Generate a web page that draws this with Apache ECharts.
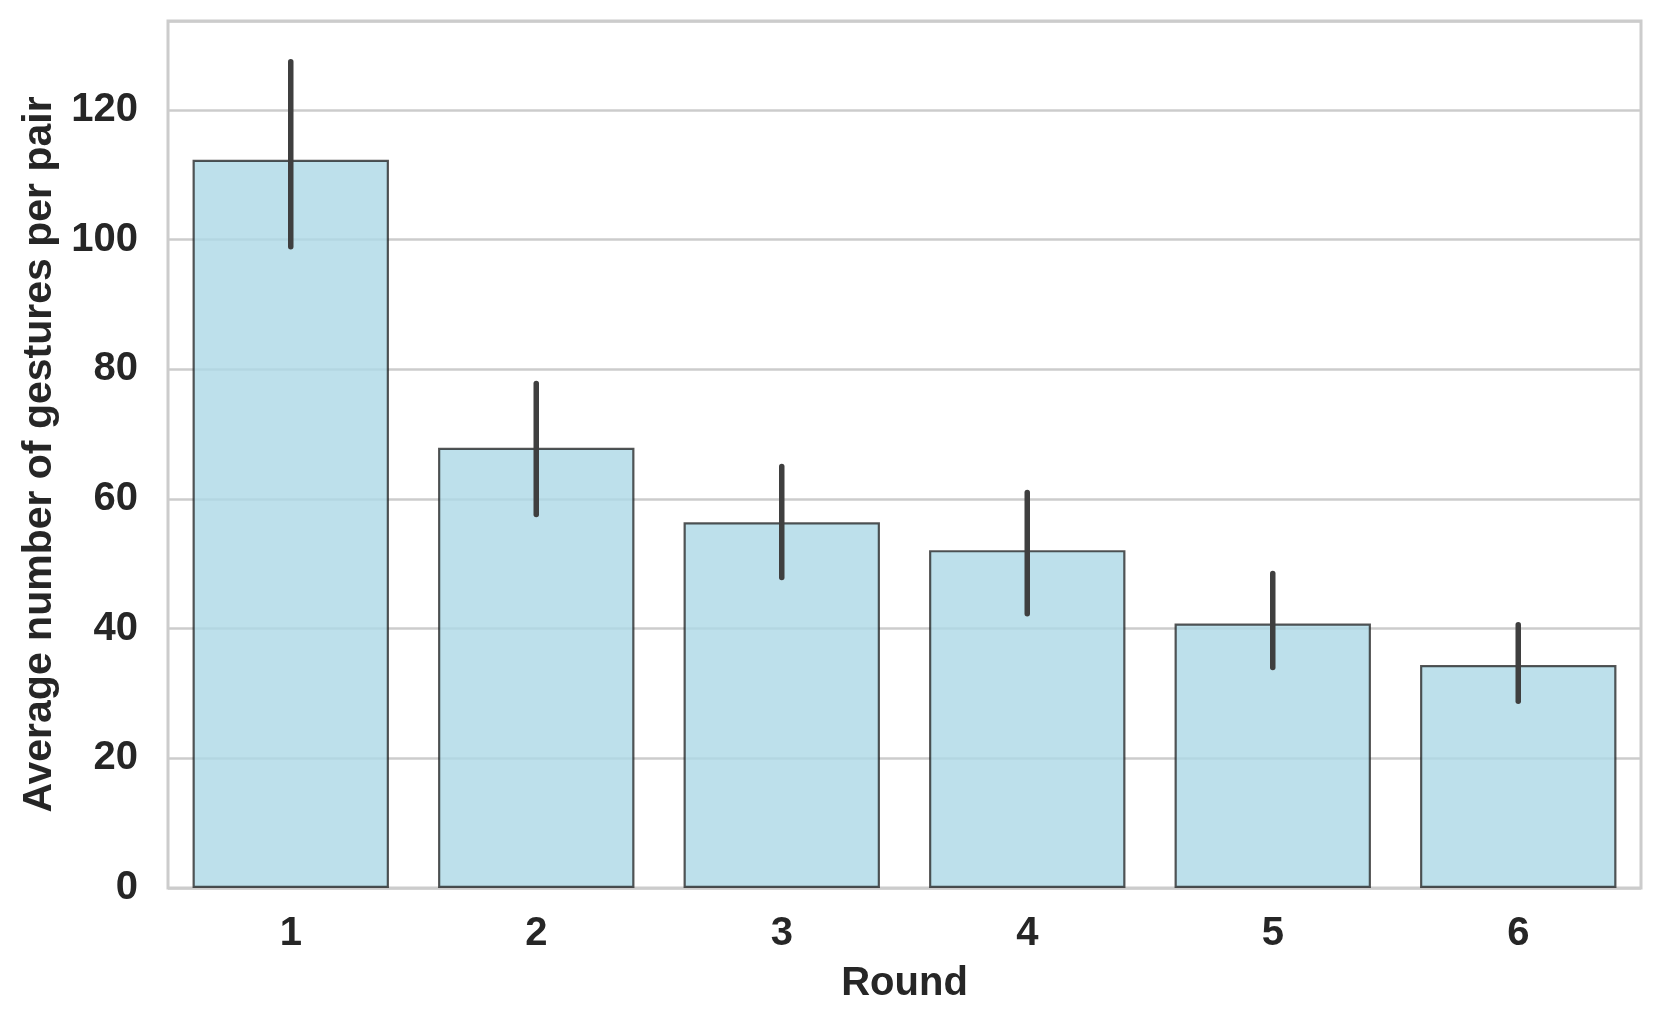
<!DOCTYPE html>
<html>
<head>
<meta charset="utf-8">
<script src="https://cdn.jsdelivr.net/npm/echarts@6/dist/echarts.min.js"></script>
<style>html,body{margin:0;padding:0;background:#fff}#c{width:1662px;height:1025px}</style>
</head>
<body>
<div id="c"></div>
<script>
const categories = ['1', '2', '3', '4', '5', '6'];
const meanValues = [112.3, 67.9, 56.4, 52.1, 40.8, 34.4];
const errLow = [98.9, 57.6, 47.9, 42.3, 34.0, 28.8];
const errHigh = [127.4, 77.8, 65.0, 61.0, 48.5, 40.6];
const yTicks = [0, 20, 40, 60, 80, 100, 120];

const FONT = '"Liberation Sans", Arial, sans-serif';
const chart = echarts.init(document.getElementById('c'), null, {renderer: 'canvas'});
chart.setOption({
  animation: false,
  backgroundColor: '#ffffff',
  grid: {
    left: 168, right: 21, top: 21, bottom: 137,
    show: true, borderColor: '#cccccc', borderWidth: 3, backgroundColor: 'transparent',
    containLabel: false
  },
  xAxis: {
    type: 'category',
    data: categories,
    boundaryGap: true,
    name: 'Round',
    nameLocation: 'middle',
    nameGap: 76,
    nameTextStyle: {fontFamily: FONT, fontWeight: 'bold', fontSize: 40, color: '#262626'},
    axisLine: {show: false},
    axisTick: {show: false},
    splitLine: {show: false},
    axisLabel: {fontFamily: FONT, fontWeight: 'bold', fontSize: 40, color: '#262626', margin: 26}
  },
  yAxis: {
    type: 'value',
    min: 0,
    max: 133.7,
    interval: 20,
    name: 'Average number of gestures per pair',
    nameLocation: 'middle',
    nameGap: 108,
    nameTextStyle: {fontFamily: FONT, fontWeight: 'bold', fontSize: 41, color: '#262626'},
    axisLine: {show: false},
    axisTick: {show: false},
    splitLine: {show: true, lineStyle: {color: '#cccccc', width: 2.5}},
    axisLabel: {
      fontFamily: FONT, fontWeight: 'bold', fontSize: 40, color: '#262626', margin: 30,
      showMaxLabel: false,
      formatter: function (v) { return yTicks.indexOf(v) >= 0 ? String(v) : ''; }
    }
  },
  series: [
    {
      type: 'bar',
      data: meanValues,
      barWidth: '80%',
      itemStyle: {
        color: 'rgba(173,216,230,0.8)',
        borderColor: 'rgba(30,30,30,0.75)',
        borderWidth: 2.2
      },
      z: 2
    },
    {
      type: 'custom',
      z: 5,
      data: categories.map(function (c, i) { return [i, errLow[i], errHigh[i]]; }),
      encode: {x: 0, y: [1, 2]},
      renderItem: function (params, api) {
        const p1 = api.coord([api.value(0), api.value(1)]);
        const p2 = api.coord([api.value(0), api.value(2)]);
        return {
          type: 'line',
          shape: {x1: p1[0], y1: p1[1], x2: p2[0], y2: p2[1]},
          style: {stroke: '#3f3f3f', lineWidth: 5.5, lineCap: 'round'}
        };
      }
    }
  ]
});
</script>
</body>
</html>
